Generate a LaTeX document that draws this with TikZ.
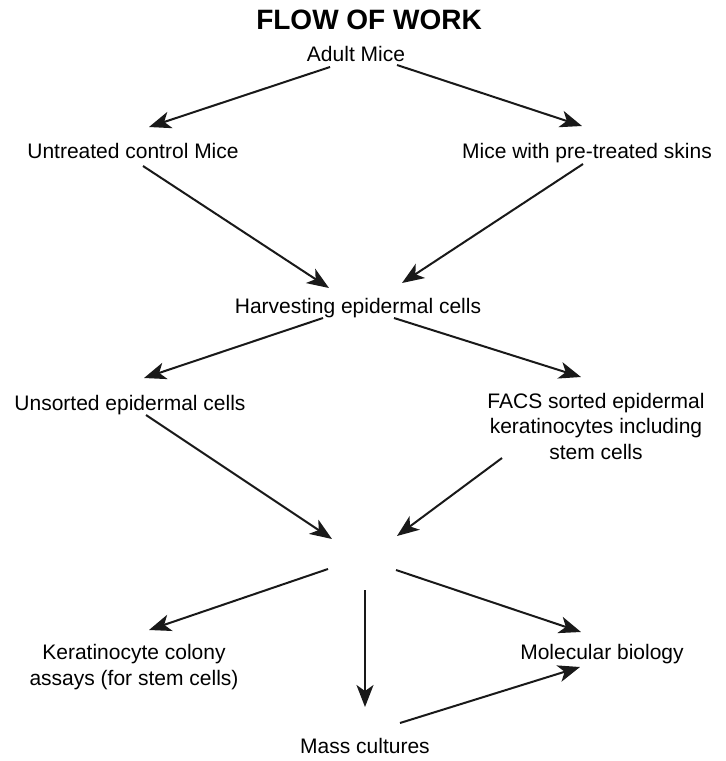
\documentclass[tikz,border=0pt]{standalone}
\usepackage{fontspec}
\setmainfont{Liberation Sans}
\usepackage{tikz}
\usetikzlibrary{arrows.meta,calc,positioning}

\tikzset{
  lbl/.style={anchor=base, inner sep=0pt, align=center, font=\fontsize{21}{25.5}\selectfont},
  flow/.style={->, line width=2pt, draw=black!90}
}

\begin{document}
\begin{tikzpicture}[>={Stealth[length=22pt, width=17pt, inset=6pt]}, x=1pt, y=-1pt]
  \useasboundingbox (0,0) rectangle (726,761);
  % labels (multi-line ones sit on their last baseline)
  \node[lbl, font=\fontsize{28}{30}\selectfont\bfseries] (title) at (369,29) {FLOW OF WORK};
  \node[lbl] (adult) at (356,61) {Adult Mice};
  \node[lbl] (untreated) at (133,158) {Untreated control Mice};
  \node[lbl] (pretreated) at (587,158) {Mice with pre-treated skins};
  \node[lbl] (harvest) at (358,313) {Harvesting epidermal cells};
  \node[lbl] (unsorted) at (130,410) {Unsorted epidermal cells};
  \node[lbl] (facs) at (596,459) {FACS sorted epidermal\\keratinocytes including\\stem cells};
  \coordinate (hub) at (365,553);
  \node[lbl] (colony) at (134,685) {Keratinocyte colony\\assays (for stem cells)};
  \node[lbl] (molbio) at (602,659) {Molecular biology};
  \node[lbl] (mass) at (365,753) {Mass cultures};
  % arrows
  \draw[flow] ($(adult.base)+(-26,6)$) -- ($(untreated.base)+(16,-31)$);
  \draw[flow] ($(adult.base)+(41,4)$) -- ($(pretreated.base)+(-5,-32)$);
  \draw[flow] ($(untreated.base)+(10,8)$) -- ($(harvest.base)+(-29,-25)$);
  \draw[flow] ($(pretreated.base)+(-4,6)$) -- ($(harvest.base)+(44,-30)$);
  \draw[flow] ($(harvest.base)+(-35,5)$) -- ($(unsorted.base)+(14,-32)$);
  \draw[flow] ($(harvest.base)+(36,5)$) -- ($(facs.base)+(-15,-82)$);
  \draw[flow] ($(unsorted.base)+(16,5)$) -- ($(hub)+(-33,-14)$);
  \draw[flow] ($(facs.base)+(-94,-1)$) -- ($(hub)+(32,-17)$);
  \draw[flow] ($(hub)+(-37,16)$) -- ($(colony.base)+(15,-55)$);
  \draw[flow] ($(hub)+(0,37)$) -- ($(mass.base)+(0,-46)$);
  \draw[flow] ($(hub)+(31,17)$) -- ($(molbio.base)+(-21,-27)$);
  \draw[flow] ($(mass.base)+(35,-30)$) -- ($(molbio.base)+(-22,8)$);
\end{tikzpicture}
\end{document}
